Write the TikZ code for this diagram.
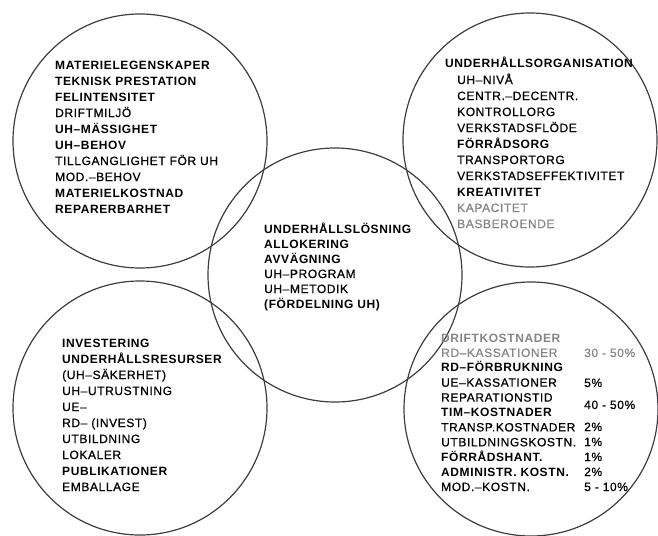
\documentclass[tikz,border=0pt]{standalone}
\usepackage{fontspec}
\setmainfont[LetterSpace=5, UprightFeatures={FakeBold=0.7}]{Liberation Sans}
\usetikzlibrary{positioning, calc}
\definecolor{inkline}{rgb}{0.24,0.24,0.26}
\definecolor{fadetext}{rgb}{0.52,0.52,0.52}

\begin{document}
\begin{tikzpicture}[
    x=1pt, y=-1pt,
    ring/.style={circle, draw=inkline, line width=1.2pt, minimum size=254pt, inner sep=0pt},
    list/.style={align=left, anchor=base west, inner sep=0pt, font=\fontsize{12}{16}\selectfont},
    tightlist/.style={list, font=\fontsize{12}{14.9}\selectfont},
    pct/.style={anchor=base west, inner sep=0pt, font=\fontsize{12}{14}\selectfont}
]
\useasboundingbox (0,0) rectangle (658,535);

% Circles
\node[ring] (material) at (140,141) {};
\node[ring] (organisation) at (530,140) {};
\node[ring] (solution) at (335,275) {};
\node[ring] (resources) at (140,408) {};
\node[ring] (costs) at (531,409) {};

% Material properties (placed by the baseline of the last line)
\node[list] (matlist) at (55,213) {\textbf{MATERIELEGENSKAPER}\\
    \textbf{TEKNISK PRESTATION}\\
    \textbf{FELINTENSITET}\\
    DRIFTMILJÖ\\
    \textbf{UH–MÄSSIGHET}\\
    \textbf{UH–BEHOV}\\
    TILLGANGLIGHET FÖR UH\\
    MOD.–BEHOV\\
    \textbf{MATERIELKOSTNAD}\\
    \textbf{REPARERBARHET}};

% Maintenance organisation
\node[list] (orghead) at (445,67) {\textbf{UNDERHÅLLSORGANISATION}};
\node[list] (orglist) at (457,228) {UH–NIVÅ\\
    CENTR.–DECENTR.\\
    KONTROLLORG\\
    VERKSTADSFLÖDE\\
    \textbf{FÖRRÅDSORG}\\
    TRANSPORTORG\\
    VERKSTADSEFFEKTIVITET\\
    \textbf{KREATIVITET}\\
    {\color{fadetext}KAPACITET}\\
    {\color{fadetext}BASBEROENDE}};

% Maintenance solution
\node[list, font=\fontsize{12}{15}\selectfont] (sollist) at (264,308) {\textbf{UNDERHÅLLSLÖSNING}\\
    \textbf{ALLOKERING}\\
    \textbf{AVVÄGNING}\\
    UH–PROGRAM\\
    UH–METODIK\\
    \textbf{(FÖRDELNING UH)}};

% Investment
\node[list] (reslist) at (62,491) {\textbf{INVESTERING}\\
    \textbf{UNDERHÅLLSRESURSER}\\
    (UH–SÄKERHET)\\
    UH–UTRUSTNING\\
    UE–\\
    RD– (INVEST)\\
    UTBILDNING\\
    LOKALER\\
    \textbf{PUBLIKATIONER}\\
    EMBALLAGE};

% Operating costs
\node[tightlist] (costlist) at (441,491) {{\color{fadetext}\textbf{DRIFTKOSTNADER}}\\
    {\color{fadetext}RD–KASSATIONER}\\
    \textbf{RD–FÖRBRUKNING}\\
    UE–KASSATIONER\\
    REPARATIONSTID\\
    \textbf{TIM–KOSTNADER}\\
    TRANSP.KOSTNADER\\
    UTBILDNINGSKOSTN.\\
    \textbf{FÖRRÅDSHANT.}\\
    \textbf{ADMINISTR. KOSTN.}\\
    MOD.–KOSTN.};
\node[pct, text=fadetext] (pctscrap) at (584,357) {30 - 50\%};
\node[pct] (pctue) at (584,387) {5\%};
\node[pct] (pctrep) at (584,409) {40 - 50\%};
\node[pct] (pcttransp) at (584,431) {2\%};
\node[pct] (pcttrain) at (584,446) {1\%};
\node[pct] (pctstore) at (584,461) {1\%};
\node[pct] (pctadmin) at (584,476) {2\%};
\node[pct] (pctmod) at (584,491) {5 - 10\%};

\end{tikzpicture}
\end{document}
